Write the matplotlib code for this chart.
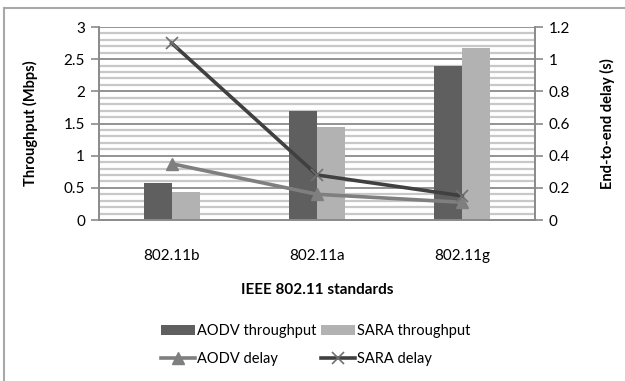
import matplotlib
matplotlib.use("Agg")
import matplotlib.pyplot as plt
import numpy as np
from matplotlib.lines import Line2D

plt.rcParams['font.family'] = ['Lato', 'DejaVu Sans']

categories = ["802.11b", "802.11a", "802.11g"]
aodv_throughput = [0.58, 1.70, 2.40]
sara_throughput = [0.43, 1.45, 2.67]
aodv_delay = [0.35, 0.16, 0.11]
sara_delay = [1.10, 0.28, 0.15]

W, H = 625, 381
fig = plt.figure(figsize=(W / 100, H / 100), dpi=100)
ax = fig.add_axes([99 / W, 1 - 220 / H, (535 - 99) / W, (220 - 27) / H])
ax2 = ax.twinx()

x = np.arange(len(categories))
bw = 0.193
ax.set_xlim(-0.5, 2.5)
ax.set_ylim(0, 3)
ax2.set_ylim(0, 1.2)

# gridlines
for v in np.arange(0.1, 3.0001, 0.1):
    major = abs(v / 0.5 - round(v / 0.5)) < 1e-6
    ax.axhline(v, color="#8a8a8a" if major else "#c8c8c8",
               lw=1.3 if major else 1.6, zorder=0.5)

b1 = ax.bar(x - bw / 2, aodv_throughput, bw, color="#5f5f5f", zorder=2,
            label="AODV throughput")
b2 = ax.bar(x + bw / 2, sara_throughput, bw, color="#b2b2b2", zorder=2,
            label="SARA throughput")

l1, = ax2.plot(x, aodv_delay, color="#7f7f7f", lw=2.6, marker="^",
               markersize=8, markeredgecolor="#7f7f7f", label="AODV delay", zorder=3)
l2, = ax2.plot(x, sara_delay, color="#404040", lw=2.6, marker="x",
               markersize=9, markeredgewidth=1.2, markeredgecolor="#707070",
               label="SARA delay", zorder=4)

for a in (ax, ax2):
    a.spines["top"].set_visible(False)
    for s in ("left", "right", "bottom"):
        a.spines[s].set_color("#8a8a8a")
        a.spines[s].set_linewidth(1.2)
ax.set_yticks(np.arange(0, 3.01, 0.5))
ax.set_yticklabels(["0", "0.5", "1", "1.5", "2", "2.5", "3"])
ax2.set_yticks(np.arange(0, 1.21, 0.2))
ax2.set_yticklabels(["0", "0.2", "0.4", "0.6", "0.8", "1", "1.2"])
ax.tick_params(axis="y", length=6, width=1.2, color="#8a8a8a", labelsize=11, pad=4)
ax2.tick_params(axis="y", length=6, width=1.2, color="#8a8a8a", labelsize=11, pad=4)
ax.set_xticks(x)
ax.set_xticklabels(categories)
ax.tick_params(axis="x", length=0, labelsize=11, pad=21)

ax.set_ylabel("Throughput (Mbps)", fontsize=10.5, fontweight="bold")
ax2.set_ylabel("End-to-end delay (s)", fontsize=10.5, fontweight="bold")
ax.yaxis.set_label_coords((38 - 99) / 436, 0.5)
ax2.yaxis.set_label_coords((600 - 99) / 436, 0.5)
ax.set_xlabel("IEEE 802.11 standards", fontsize=11, fontweight="bold", labelpad=14)

ax.set_zorder(ax2.get_zorder() - 1)
ax2.patch.set_visible(False)
ax.patch.set_facecolor("white")

fig.legend([b1, l1, b2, l2],
           ["AODV throughput", "AODV delay", "SARA throughput", "SARA delay"],
           ncol=2, frameon=False, fontsize=10.5,
           loc="center left", bbox_to_anchor=(148 / W, 1 - 345 / H),
           handlelength=2.3, handletextpad=0.15, columnspacing=0.35,
           labelspacing=0.95)

# outer frame
fig.add_artist(Line2D([4 / W, 4 / W], [0, 1 - 8 / H], transform=fig.transFigure,
                      color="#a8a8a8", lw=1.5))
fig.add_artist(Line2D([4 / W, 1], [1 - 8 / H, 1 - 8 / H], transform=fig.transFigure,
                      color="#a8a8a8", lw=1.5))

fig.savefig("out.png", dpi=100)
